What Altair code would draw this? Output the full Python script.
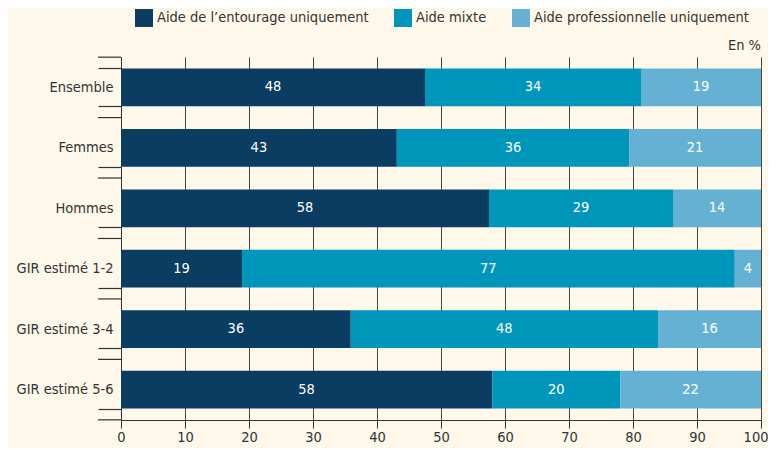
import altair as alt
import pandas as pd

categories = ["Ensemble", "Femmes", "Hommes", "GIR estimé 1-2", "GIR estimé 3-4", "GIR estimé 5-6"]
series = ["Aide de l’entourage uniquement", "Aide mixte", "Aide professionnelle uniquement"]
entourage = [47.5, 43.1, 57.5, 18.9, 35.9, 58.0]
mixte = [33.75, 36.3, 28.75, 77.0, 48.0, 20.0]
pro = [18.75, 20.6, 13.75, 4.1, 16.1, 22.0]
lab_entourage = ["48", "43", "58", "19", "36", "58"]
lab_mixte = ["34", "36", "29", "77", "48", "20"]
lab_pro = ["19", "21", "14", "4", "16", "22"]
colors = ["#0b3c62", "#0096bb", "#64b1d3"]

rows = []
for vals, labs, s_i in [(entourage, lab_entourage, 0), (mixte, lab_mixte, 1), (pro, lab_pro, 2)]:
    for c, v, l in zip(categories, vals, labs):
        rows.append({"cat": c, "serie": series[s_i], "ord": s_i, "val": v, "lab": l})
df = pd.DataFrame(rows)

FONT = "DejaVu Sans Condensed"
FS = 14.5
TXT = "#333333"

base = alt.Chart(df).transform_stack(
    stack="val", groupby=["cat"], as_=["x0", "x1"], sort=[alt.SortField("ord", order="ascending")]
).transform_calculate(mid="(datum.x0 + datum.x1) / 2")

y_enc = alt.Y("cat:N", sort=categories, title=None,
              scale=alt.Scale(paddingInner=0.375, paddingOuter=0.19),
              axis=alt.Axis(ticks=True, tickBand="extent", tickExtra=True, tickSize=23, tickWidth=1.2,
                            tickOpacity=1, tickColor="#333333", domainColor="#333333",
                            labelFont=FONT, labelFontSize=FS, labelColor=TXT, labelPadding=-15,
                            labelLimit=300))

bars = base.mark_bar().encode(
    y=y_enc,
    x=alt.X("x0:Q", scale=alt.Scale(domain=[0, 100], nice=False), title=None,
            axis=alt.Axis(values=list(range(0, 101, 10)), grid=True, gridColor="#333333", gridOpacity=0.9,
                          tickColor="#333333", domainColor="#333333", tickSize=8, labelFlush=False,
                          labelAlign=alt.ExprRef(expr="datum.value == 100 ? 'right' : 'center'"),
                          labelOffset=alt.ExprRef(expr="datum.value == 100 ? 7 : 0"),
                          labelFont=FONT, labelFontSize=FS, labelColor=TXT, labelPadding=2)),
    x2="x1:Q",
    color=alt.Color("serie:N", sort=series, scale=alt.Scale(domain=series, range=colors),
                    legend=alt.Legend(title=None, orient="none", legendX=14, legendY=-48, direction="horizontal",
                                      symbolType="square", symbolSize=324, symbolStrokeWidth=0,
                                      labelFont=FONT, labelFontSize=FS, labelColor=TXT,
                                      columnPadding=25, labelOffset=4, labelLimit=400)),
)

texts = base.mark_text(color="white", font=FONT, fontSize=FS, baseline="middle").encode(
    y=alt.Y("cat:N", sort=categories),
    x=alt.X("mid:Q"),
    text="lab:N",
)

cat_df = pd.DataFrame({"cat": categories})
ticks_below = alt.Chart(cat_df).mark_rule(color="#333333", strokeWidth=1.2, yOffset=30.2).encode(
    y=alt.Y("cat:N", sort=categories), x=alt.value(-23), x2=alt.value(0)
)
ticks_top = alt.Chart(cat_df.head(1)).mark_rule(color="#333333", strokeWidth=1.2, yOffset=-30.2).encode(
    y=alt.Y("cat:N", sort=categories), x=alt.value(-23), x2=alt.value(0)
)

unit = alt.Chart(pd.DataFrame({"t": ["En %"]})).mark_text(
    align="right", baseline="middle", font=FONT, fontSize=FS, color=TXT
).encode(text="t:N", x=alt.value(640), y=alt.value(-11))

chart = alt.layer(bars, texts, ticks_below, ticks_top, unit).properties(
    width=640, height=363,
    autosize=alt.AutoSizeParams(type="none"),
    padding={"left": 113, "top": 49, "right": 7, "bottom": 28},
    background="#fdf8e9",
).configure_view(stroke=None)

chart.save("out.html", embed_options={"renderer": "svg", "actions": False})
